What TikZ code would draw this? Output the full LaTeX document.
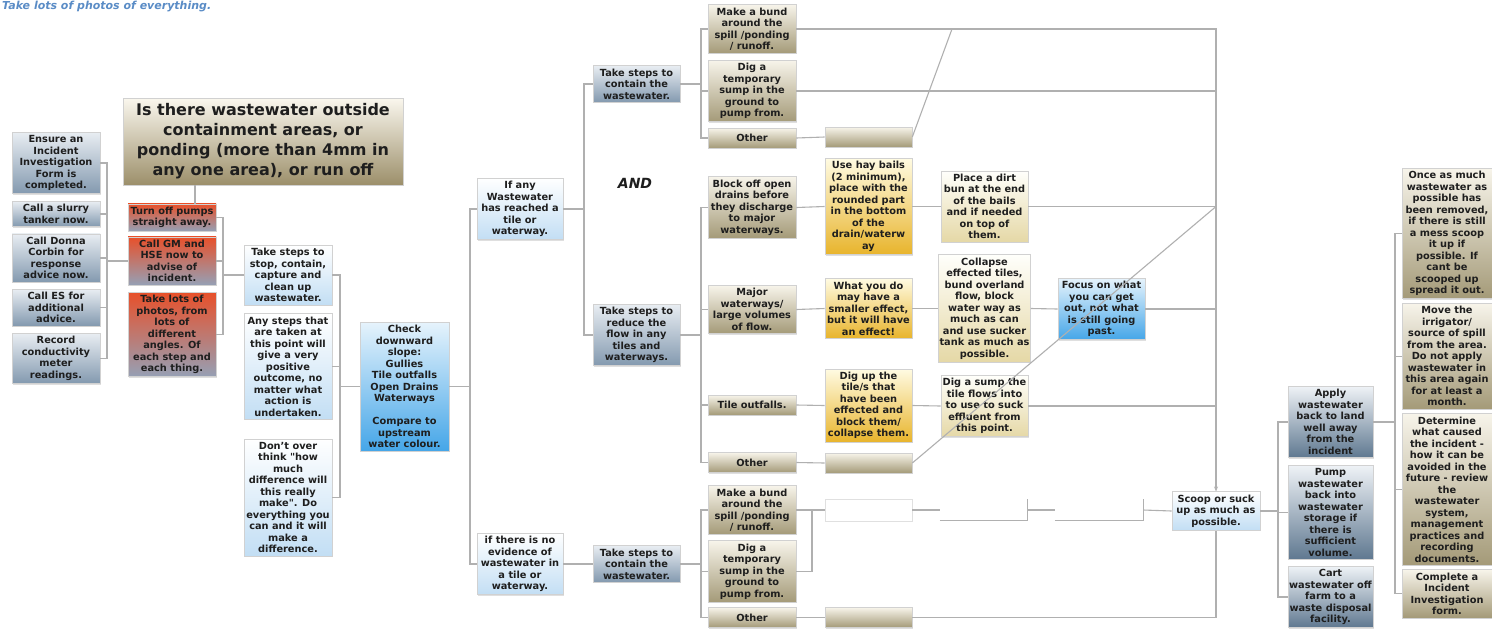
\documentclass[tikz,border=0pt]{standalone}
\usepackage{fontspec}
\setmainfont{DejaVu Sans}
\usetikzlibrary{positioning,arrows.meta,shadows}
\definecolor{linegray}{HTML}{B0B0B0}
\definecolor{textdark}{HTML}{1E1E1E}
\definecolor{titleblue}{HTML}{5A8CC6}
\definecolor{bgtop}{HTML}{E8EDF2}
\definecolor{bgbot}{HTML}{8399AF}
\definecolor{redtop}{HTML}{E8502A}
\definecolor{redbot}{HTML}{95A0B5}
\definecolor{lbbot}{HTML}{C2DEF4}
\definecolor{bbtop}{HTML}{E6F3FC}
\definecolor{bbbot}{HTML}{45A6E8}
\definecolor{tantop}{HTML}{F7F4EA}
\definecolor{tanbot}{HTML}{A49A78}
\definecolor{yeltop}{HTML}{FFFBE2}
\definecolor{yelbot}{HTML}{E8B42C}
\definecolor{crtop}{HTML}{FFFFFB}
\definecolor{crbot}{HTML}{E5D8A6}
\definecolor{sltop}{HTML}{EEF2F6}
\definecolor{slbot}{HTML}{5F7890}
\definecolor{qtop}{HTML}{FAF7EE}
\definecolor{qbot}{HTML}{9C8F6A}

\begin{document}
\begin{tikzpicture}[x=1pt,y=-1pt,
  box/.style={rectangle,draw=black!18,line width=0.6pt,align=center,minimum width=88pt,inner xsep=1pt,inner ysep=3pt,font=\fontsize{9.8}{11.5}\selectfont\bfseries,text=textdark,drop shadow={shadow xshift=1pt,shadow yshift=-1pt,opacity=0.25}},
  single/.style={minimum height=20pt},
  bluegray/.style={top color=bgtop,bottom color=bgbot},
  redbox/.style={top color=redtop,bottom color=redbot},
  lightblue/.style={top color=white,bottom color=lbbot},
  brightblue/.style={top color=bbtop,bottom color=bbbot},
  tanbox/.style={top color=tantop,bottom color=tanbot},
  yellowbox/.style={top color=yeltop,bottom color=yelbot},
  creambox/.style={top color=crtop,bottom color=crbot},
  slatebox/.style={top color=sltop,bottom color=slbot},
  qbox/.style={top color=qtop,bottom color=qbot},
  link/.style={draw=linegray,line width=1.1pt}]
\fill[white] (0,0) rectangle (1492,633);
\useasboundingbox (0,0) rectangle (1492,633);

\node[anchor=base west,inner sep=0pt,font=\fontsize{11}{13}\selectfont\bfseries\itshape,text=titleblue] (title) at (2,9) {Take lots of photos of everything.};

\node[box,qbox,minimum width=280pt,minimum height=87pt,font=\fontsize{16}{20}\selectfont\bfseries] (q) at (263,141.5) {Is there wastewater outside\\containment areas, or\\ponding (more than 4mm in\\any one area), or run off};

\node[box,bluegray] (ensure) at (56,163) {Ensure an\\Incident\\Investigation\\Form is\\completed.};
\node[box,bluegray] (slurry) at (56,214) {Call a slurry\\tanker now.};
\node[box,bluegray] (donna) at (56,258) {Call Donna\\Corbin for\\response\\advice now.};
\node[box,bluegray] (callES) at (56,307.5) {Call ES for\\additional\\advice.};
\node[box,bluegray] (record) at (56,358.5) {Record\\conductivity\\meter\\readings.};

\node[box,redbox] (pumps) at (172,217.5) {Turn off pumps\\straight away.};
\node[box,redbox] (gm) at (172,261) {Call GM and\\HSE now to\\advise of\\incident.};
\node[box,redbox] (photos) at (172,334.5) {Take lots of\\photos, from\\lots of\\different\\angles. Of\\each step and\\each thing.};

\node[box,lightblue] (stop) at (288,275) {Take steps to\\stop, contain,\\capture and\\clean up\\wastewater.};
\node[box,lightblue] (anysteps) at (288,366.5) {Any steps that\\are taken at\\this point will\\give a very\\positive\\outcome, no\\matter what\\action is\\undertaken.};
\node[box,lightblue] (dontover) at (288,497.5) {Don't over\\think \textquotedbl how\\much\\difference will\\this really\\make\textquotedbl. Do\\everything you\\can and it will\\make a\\difference.};
\node[box,brightblue,minimum width=89pt] (check) at (404.5,386.5) {Check\\downward\\slope:\\Gullies\\Tile outfalls\\Open Drains\\Waterways\\[11.5pt]Compare to\\upstream\\water colour.};

\node[box,lightblue,minimum width=86pt] (ifany) at (520,209) {If any\\Wastewater\\has reached a\\tile or\\waterway.};
\node[box,lightblue,minimum width=86pt] (noevid) at (520,564) {if there is no\\evidence of\\wastewater in\\a tile or\\waterway.};
\node[font=\fontsize{14}{16}\selectfont\bfseries\itshape,text=textdark] (andlabel) at (635,183) {AND};

\node[box,bluegray,minimum width=87pt] (contain1) at (636.5,84) {Take steps to\\contain the\\wastewater.};
\node[box,bluegray,minimum width=87pt] (reduce) at (636.5,335) {Take steps to\\reduce the\\flow in any\\tiles and\\waterways.};
\node[box,bluegray,minimum width=87pt] (contain2) at (636.5,564) {Take steps to\\contain the\\wastewater.};

\node[box,tanbox] (bund1) at (752,29) {Make a bund\\around the\\spill /ponding\\/ runoff.};
\node[box,tanbox] (dig1) at (752,91) {Dig a\\temporary\\sump in the\\ground to\\pump from.};
\node[box,tanbox,single] (other1) at (752,138) {Other};
\node[box,tanbox,single,minimum width=87pt] (empty1) at (868.5,137) {};

\node[box,tanbox] (block) at (752,207.5) {Block off open\\drains before\\they discharge\\to major\\waterways.};
\node[box,tanbox] (major) at (752,309.5) {Major\\waterways/\\large volumes\\of flow.};
\node[box,tanbox,single] (tile) at (752,405) {Tile outfalls.};
\node[box,tanbox,single] (other2) at (752,462.5) {Other};

\node[box,yellowbox,minimum width=87pt] (hay) at (868.5,206.5) {Use hay bails\\(2 minimum),\\place with the\\rounded part\\in the bottom\\of the\\drain/waterw\\ay};
\node[box,yellowbox,minimum width=87pt] (effect) at (868.5,308.5) {What you do\\may have a\\smaller effect,\\but it will have\\an effect!};
\node[box,yellowbox,minimum width=87pt] (digup) at (868.5,405.5) {Dig up the\\tile/s that\\have been\\effected and\\block them/\\collapse them.};
\node[box,tanbox,single,minimum width=87pt] (empty2) at (868.5,463) {};

\node[box,creambox,minimum width=87pt] (dirt) at (984.5,206.5) {Place a dirt\\bun at the end\\of the bails\\and if needed\\on top of\\them.};
\node[box,creambox,minimum width=87pt] (collapse) at (984.5,308.5) {Collapse\\effected tiles,\\bund overland\\flow, block\\water way as\\much as can\\and use sucker\\tank as much as\\possible.};
\node[box,creambox,minimum width=87pt] (sump) at (984.5,406) {Dig a sump the\\tile flows into\\to use to suck\\effluent from\\this point.};
\node[box,brightblue,minimum width=87pt] (focus) at (1101.5,309) {Focus on what\\you can get\\out, not what\\is still going\\past.};

\node[box,tanbox] (bund2) at (752,510) {Make a bund\\around the\\spill /ponding\\/ runoff.};
\node[box,tanbox] (dig2) at (752,571.5) {Dig a\\temporary\\sump in the\\ground to\\pump from.};
\node[box,tanbox,single] (other3) at (752,617.5) {Other};
\node[box,draw=black!12,fill=white,minimum width=87pt,minimum height=22pt] (empty3) at (868.5,510) {};
\node[inner sep=0pt,minimum width=87pt,minimum height=21pt] (empty4) at (983.5,510) {};
\node[inner sep=0pt,minimum width=88pt,minimum height=21pt] (empty5) at (1099,510) {};
\node[box,tanbox,single,minimum width=87pt] (empty6) at (868.5,617.5) {};

\node[box,lightblue] (scoop) at (1216,511) {Scoop or suck\\up as much as\\possible.};

\node[box,slatebox,minimum width=85pt] (apply) at (1330.5,422) {Apply\\wastewater\\back to land\\well away\\from the\\incident};
\node[box,slatebox,minimum width=85pt] (pump) at (1330.5,512.5) {Pump\\wastewater\\back into\\wastewater\\storage if\\there is\\sufficient\\volume.};
\node[box,slatebox,minimum width=85pt] (cart) at (1330.5,597) {Cart\\wastewater off\\farm to a\\waste disposal\\facility.};

\node[box,tanbox,minimum width=90pt,anchor=north] (once) at (1447,168) {Once as much\\wastewater as\\possible has\\been removed,\\if there is still\\a mess scoop\\it up if\\possible. If\\cant be\\scooped up\\spread it out.};
\node[box,tanbox,minimum width=90pt,below=4pt of once] (move) {Move the\\irrigator/\\source of spill\\from the area.\\Do not apply\\wastewater in\\this area again\\for at least a\\month.};
\node[box,tanbox,minimum width=90pt,below=4pt of move] (determine) {Determine\\what caused\\the incident -\\how it can be\\avoided in the\\future - review\\the\\wastewater\\system,\\management\\practices and\\recording\\documents.};
\node[box,tanbox,minimum width=90pt,below=4pt of determine] (complete) {Complete a\\Incident\\Investigation\\form.};

% left side
\coordinate (qdrop) at (195,0);
\draw[link] (q.south -| qdrop) -- (pumps.north -| qdrop);
\coordinate (lb) at (107,261);
\draw[link] (ensure.east) -| (lb);
\draw[link] (slurry.east) -| (lb);
\draw[link] (donna.east) -| (lb);
\draw[link] (callES.east) -| (lb);
\draw[link] (record.east) -| (lb);
\draw[link] (lb) -- (gm.west);
\coordinate (rb) at (223,275);
\draw[link] (pumps.east) -| (rb);
\draw[link] (gm.east) -| (rb);
\draw[link] (photos.east) -| (rb);
\draw[link] (rb) -- (stop.west);
\coordinate (mb) at (340,386.5);
\draw[link] (stop.east) -| (mb);
\draw[link] (anysteps.east) -| (mb);
\draw[link] (dontover.east) -| (mb);
\draw[link] (mb) -- (check.west);
\coordinate (tr) at (470,386.5);
\draw[link] (check.east) -- (tr);
\draw[link] (ifany.west) -| (tr);
\draw[link] (noevid.west) -| (tr);
\coordinate (ab) at (584,209);
\draw[link] (ifany.east) -- (ab);
\draw[link] (contain1.west) -| (ab);
\draw[link] (reduce.west) -| (ab);
\draw[link] (noevid.east) -- (contain2.west);

% middle groups
\coordinate (t1) at (701,84);
\draw[link] (contain1.east) -- (t1);
\draw[link] (bund1.west) -| (t1);
\draw[link] (dig1.west) -| (t1);
\draw[link] (other1.west) -| (t1);
\coordinate (t2) at (701,335);
\draw[link] (reduce.east) -- (t2);
\draw[link] (block.west) -| (t2);
\draw[link] (major.west) -| (t2);
\draw[link] (tile.west) -| (t2);
\draw[link] (other2.west) -| (t2);
\coordinate (t3) at (701,564);
\draw[link] (contain2.east) -- (t3);
\draw[link] (bund2.west) -| (t3);
\draw[link] (dig2.west) -| (t3);
\draw[link] (other3.west) -| (t3);

\draw[link,-{Stealth[length=5pt,width=4pt]}] (bund1.east) -| (scoop.north);
\draw[link] (dig1.east) -- (dig1.east -| scoop.north);
\draw[link] (other1.east) -- (empty1.west);
\coordinate (d1) at (952,29);
\draw[link] (empty1.east) -- (d1);

\draw[link] (block.east) -- (hay.west);
\draw[link] (hay.east) -- (dirt.west);
\draw[link] (dirt.east) -- (dirt.east -| scoop.north);
\draw[link] (major.east) -- (effect.west);
\draw[link] (effect.east) -- (collapse.west);
\draw[link] (collapse.east) -- (focus.west);
\draw[link] (focus.east) -- (focus.east -| scoop.north);
\draw[link] (tile.east) -- (digup.west);
\draw[link] (digup.east) -- (sump.west);
\draw[link] (sump.east) -- (sump.east -| scoop.north);
\draw[link] (other2.east) -- (empty2.west);
\draw[link] (empty2.east) -- (dirt.east -| scoop.north);

\coordinate (jb) at (812,510);
\draw[link] (bund2.east) -- (jb);
\draw[link] (dig2.east) -| (jb);
\draw[link] (jb) -- (empty3.west);
\draw[link] (empty3.east) -- (empty4.west);
\draw[link] (empty4.south west) -- (empty4.south east) -- (empty4.north east);
\draw[link] (empty4.east) -- (empty5.west);
\draw[link] (empty5.south west) -- (empty5.south east) -- (empty5.north east);
\draw[link] (empty5.east) -- (scoop.west);
\draw[link] (other3.east) -- (empty6.west);
\draw[link] (empty6.east) -| (scoop.south);

% right side
\coordinate (sb) at (1278,511);
\draw[link] (scoop.east) -- (sb);
\draw[link] (apply.west) -| (sb);
\draw[link] (pump.west) -| (sb);
\draw[link] (cart.west) -| (sb);
\coordinate (fb) at (1395,422);
\draw[link] (apply.east) -- (fb);
\draw[link] (once.west) -| (fb);
\draw[link] (move.west) -| (fb);
\draw[link] (determine.west) -| (fb);
\draw[link] (complete.west) -| (fb);
\end{tikzpicture}
\end{document}
